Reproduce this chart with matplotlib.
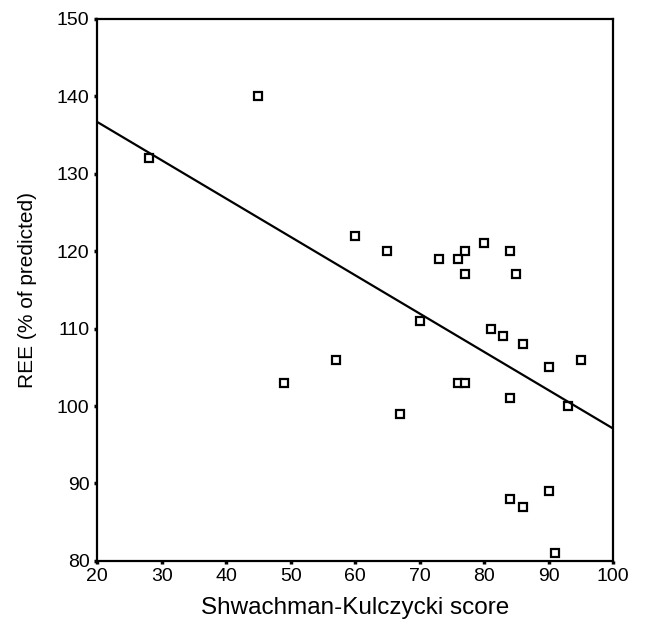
import matplotlib
matplotlib.use('Agg')
import matplotlib.pyplot as plt
import numpy as np

plt.rcParams['font.family'] = ['Liberation Sans', 'DejaVu Sans']

# Shwachman-Kulczycki score vs REE (% of predicted)
sk_score = [28, 45, 49, 57, 60, 65, 67, 70, 73, 76, 77, 77, 76, 77, 80, 84, 85,
            81, 83, 86, 84, 90, 95, 93, 84, 86, 90, 91]
ree_pct = [132, 140, 103, 106, 122, 120, 99, 111, 119, 119, 120, 117, 103, 103, 121, 120, 117,
           110, 109, 108, 101, 105, 106, 100, 88, 87, 89, 81]

# regression line
fit_intercept = 136.7   # value at x = 20
fit_slope = -0.495

x_ticks = [20, 30, 40, 50, 60, 70, 80, 90, 100]
y_ticks = [80, 90, 100, 110, 120, 130, 140, 150]

fig = plt.figure(figsize=(6.48, 6.33), dpi=100)
ax = fig.add_axes([0.150, 0.114, 0.796, 0.856])

ax.plot(sk_score, ree_pct, linestyle='none', marker='s', markersize=5.5,
        markerfacecolor='white', markeredgecolor='black', markeredgewidth=1.6)

xs = np.array([20, 100])
ax.plot(xs, fit_intercept + fit_slope * (xs - 20), color='black', linewidth=1.6)

ax.set_xlim(20, 100)
ax.set_ylim(80, 150)
ax.set_xticks(x_ticks)
ax.set_yticks(y_ticks)
ax.tick_params(direction='out', length=2.5, width=2.5, labelsize=14, pad=3)
for s in ax.spines.values():
    s.set_linewidth(1.6)

ax.set_xlabel('Shwachman-Kulczycki score', fontsize=17.5, labelpad=8)
ax.set_ylabel('REE (% of predicted)', fontsize=15, labelpad=14)

fig.savefig('out.png', dpi=100)
